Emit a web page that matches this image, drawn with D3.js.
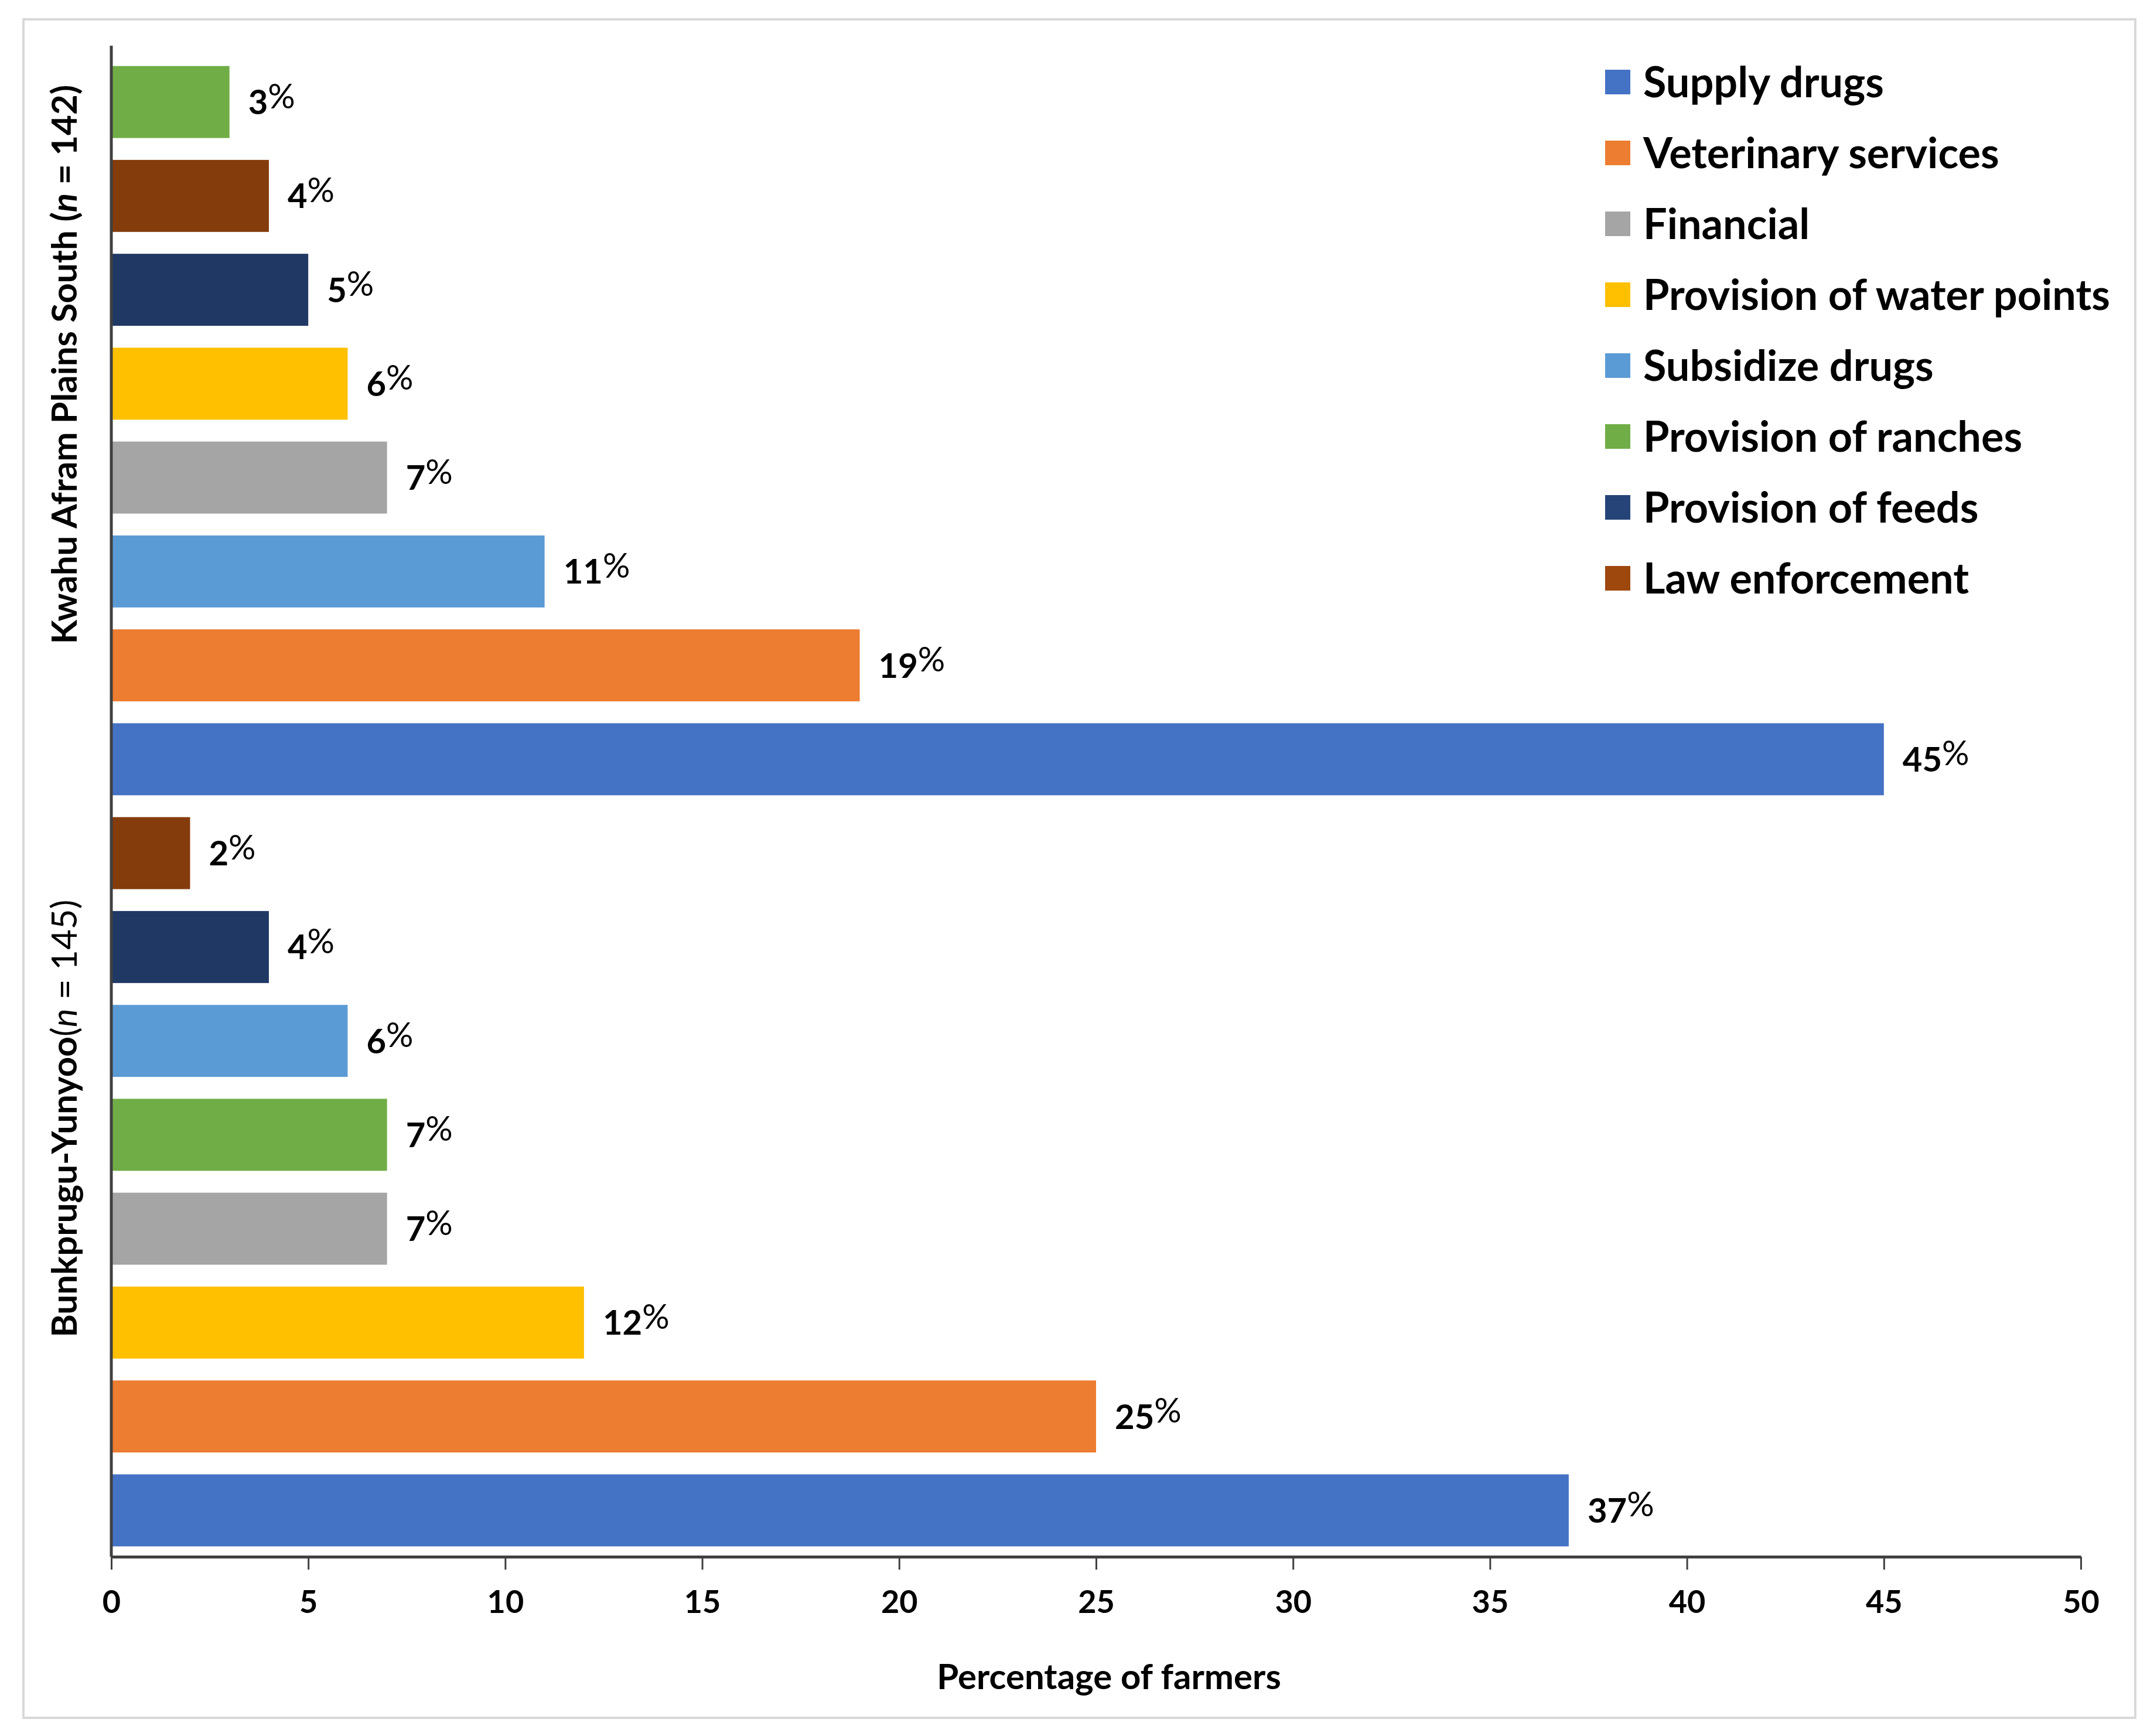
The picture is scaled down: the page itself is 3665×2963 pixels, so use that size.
<!DOCTYPE html>
<html>
<head>
<meta charset="utf-8">
<script src="https://cdn.jsdelivr.net/npm/d3@7"></script>
<style>
  body { margin: 0; background: #fff; }
  text { font-family: Lato, "Open Sans", sans-serif; fill: #000; }
</style>
</head>
<body>
<div id="chart"></div>
<script>
let W = 3665, H = 2963
let margin = {top: 78, left: 190, right: 113, bottom: 306}

// legend order and colours (legend swatches for the two dark series are a bit lighter)
const categories = ["Supply drugs", "Veterinary services", "Financial", "Provision of water points",
                    "Subsidize drugs", "Provision of ranches", "Provision of feeds", "Law enforcement"]
const barColors = ["#4472C4", "#ED7D31", "#A5A5A5", "#FFC000", "#5B9BD5", "#70AD47", "#203864", "#843C0C"]
const legendColors = ["#4472C4", "#ED7D31", "#A5A5A5", "#FFC000", "#5B9BD5", "#70AD47", "#264478", "#9E480E"]

// bars top to bottom within each district
const kwahuCats = ["Provision of ranches", "Law enforcement", "Provision of feeds", "Provision of water points",
                   "Financial", "Subsidize drugs", "Veterinary services", "Supply drugs"]
const kwahuVals = [3, 4, 5, 6, 7, 11, 19, 45]
const bunkCats = ["Law enforcement", "Provision of feeds", "Subsidize drugs", "Provision of ranches",
                  "Financial", "Provision of water points", "Veterinary services", "Supply drugs"]
const bunkVals = [2, 4, 6, 7, 7, 12, 25, 37]

const xTicks = [0, 5, 10, 15, 20, 25, 30, 35, 40, 45, 50]

let rows = kwahuCats.map((c, i) => ({key: "K" + i, cat: c, value: kwahuVals[i]}))
  .concat(bunkCats.map((c, i) => ({key: "B" + i, cat: c, value: bunkVals[i]})))

let color = d3.scaleOrdinal().domain(categories).range(barColors)

let svg = d3.select("#chart").append("svg")
  .attr("width", W).attr("height", H)

svg.append("rect")
  .attr("x", 40).attr("y", 33).attr("width", 3605).attr("height", 2899)
  .attr("fill", "#fff").attr("stroke", "#D9D9D9").attr("stroke-width", 4)

let plotBottom = H - margin.bottom

let x = d3.scaleLinear().domain([0, 50]).range([margin.left, W - margin.right])
let y = d3.scaleBand().domain(rows.map(d => d.key))
  .range([94, 2658]).paddingInner(0.233).paddingOuter(0.1165)

svg.append("g").selectAll("rect")
  .data(rows).join("rect")
  .attr("x", x(0))
  .attr("y", d => y(d.key))
  .attr("width", d => x(d.value) - x(0))
  .attr("height", y.bandwidth())
  .attr("fill", d => color(d.cat))

let labels = svg.append("g").selectAll("text")
  .data(rows).join("text")
  .attr("x", d => x(d.value) + 32)
  .attr("y", d => y(d.key) + y.bandwidth() / 2)
  .attr("dy", "0.36em")
  .attr("font-size", 58)
  .attr("font-weight", 700)
labels.append("tspan").text(d => d.value)
labels.append("tspan").text("%").attr("font-weight", 400).attr("dy", "-0.18em")

// x axis
let xAxis = svg.append("g")
  .attr("transform", "translate(0," + plotBottom + ")")
  .call(d3.axisBottom(x).tickValues(xTicks).tickSize(22).tickSizeOuter(0).tickPadding(36))
xAxis.select(".domain").attr("stroke", "#404040").attr("stroke-width", 5)
xAxis.selectAll(".tick line").attr("stroke", "#404040").attr("stroke-width", 3)
xAxis.selectAll(".tick text")
  .attr("font-size", 54).attr("font-weight", 700)
  .attr("font-family", "Lato, sans-serif").attr("fill", "#000")

// y axis line
svg.append("line")
  .attr("x1", x(0)).attr("x2", x(0))
  .attr("y1", margin.top).attr("y2", plotBottom)
  .attr("stroke", "#404040").attr("stroke-width", 5)

svg.append("text")
  .attr("x", 1893).attr("y", 2862).attr("dy", "0.35em")
  .attr("text-anchor", "middle")
  .attr("font-size", 60).attr("font-weight", 700)
  .text("Percentage of farmers")

// district labels
let kl = svg.append("text")
  .attr("transform", "translate(110,622) rotate(-90)")
  .attr("text-anchor", "middle").attr("dy", "0.35em")
  .attr("font-size", 60).attr("font-weight", 700)
kl.append("tspan").text("Kwahu Afram Plains South (")
kl.append("tspan").text("n").attr("font-style", "italic")
kl.append("tspan").text(" = 142)")

let bl = svg.append("text")
  .attr("transform", "translate(110,1909) rotate(-90)")
  .attr("text-anchor", "middle").attr("dy", "0.35em")
  .attr("font-size", 60)
bl.append("tspan").text("Bunkprugu-Yunyoo").attr("font-weight", 700)
bl.append("tspan").text("(")
bl.append("tspan").text("n").attr("font-style", "italic")
bl.append("tspan").text(" = 145)")

// legend
let legend = svg.append("g").selectAll("g")
  .data(categories).join("g")
  .attr("transform", (d, i) => "translate(2740," + (140 + i * 121) + ")")
legend.append("rect")
  .attr("x", 0).attr("y", -21).attr("width", 43).attr("height", 42)
  .attr("fill", (d, i) => legendColors[i])
legend.append("text")
  .attr("x", 65).attr("dy", "0.36em")
  .attr("font-size", 72).attr("font-weight", 700)
  .text(d => d)
</script>
</body>
</html>
